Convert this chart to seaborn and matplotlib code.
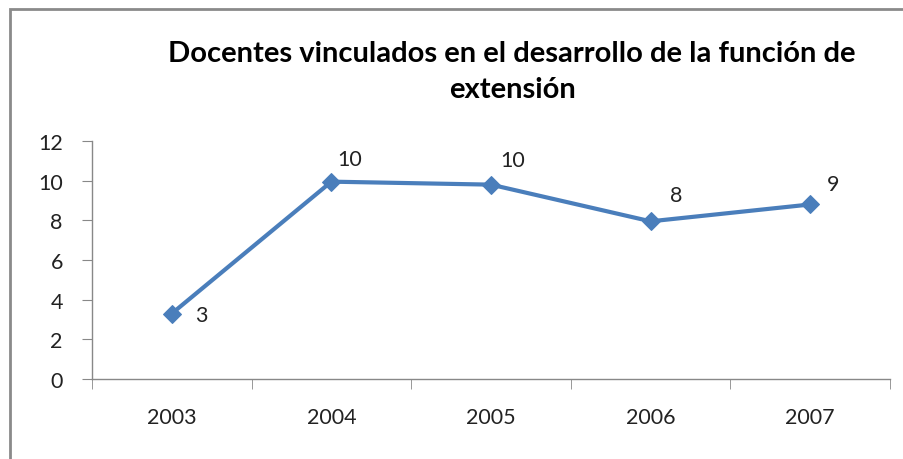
import matplotlib
matplotlib.use("Agg")
import matplotlib.pyplot as plt
import seaborn as sns
import pandas as pd
from matplotlib.patches import Rectangle

# Datos del gráfico
anios = ["2003", "2004", "2005", "2006", "2007"]
docentes = [3.3, 9.95, 9.8, 7.95, 8.8]
etiquetas = ["3", "10", "10", "8", "9"]

sns.set_style("white")
plt.rcParams["font.family"] = ["Lato", "DejaVu Sans"]

df = pd.DataFrame({"anio": anios, "docentes": docentes})

fig = plt.figure(figsize=(9.04, 4.60), dpi=100)
ax = fig.add_axes([92 / 904, 1 - 380 / 460, (890 - 92) / 904, (380 - 142) / 460])

azul = "#4A7EBB"
sns.lineplot(data=df, x="anio", y="docentes", ax=ax, color=azul, linewidth=3,
             marker="D", markersize=9, markeredgecolor=azul, sort=False)

# etiquetas de datos (desplazamiento en puntos)
offsets = [(17, -1), (4, 16), (7, 18), (14, 19), (12, 15)]
for i, (v, t) in enumerate(zip(docentes, etiquetas)):
    ax.annotate(t, (i, v), xytext=offsets[i], textcoords="offset points",
                fontsize=15.5, color="#222222", ha="left", va="center")

ax.set_xlim(-0.5, len(anios) - 0.5)
ax.set_ylim(0, 12)
ax.set_yticks(range(0, 13, 2))
ax.set_xticks(range(len(anios)))
ax.set_xticklabels(anios)
ax.set_xticks([i - 0.5 for i in range(len(anios) + 1)], minor=True)
ax.set_xlabel("")
ax.set_ylabel("")

for s in ["top", "right"]:
    ax.spines[s].set_visible(False)
for s in ["left", "bottom"]:
    ax.spines[s].set_color("#888888")
    ax.spines[s].set_linewidth(1)

ax.tick_params(axis="y", which="major", length=7, color="#888888", labelsize=15.5,
               labelcolor="#222222", left=True, pad=14)
ax.tick_params(axis="x", which="major", length=0, labelsize=15.5,
               labelcolor="#222222", pad=20)
ax.tick_params(axis="x", which="minor", length=7, color="#888888", bottom=True)

fig.text(512 / 904, 1 - 72 / 460,
         "Docentes vinculados en el desarrollo de la función de\nextensión",
         ha="center", va="center", fontsize=21, fontweight="bold",
         linespacing=1.5, color="#000000")

# borde del área del gráfico
fig.patches.append(Rectangle((10 / 904, -0.1), 1.2, 1 - 10 / 460 + 0.1,
                             transform=fig.transFigure, fill=False,
                             edgecolor="#8a8a8a", linewidth=2))

fig.savefig("out.png", dpi=100)
